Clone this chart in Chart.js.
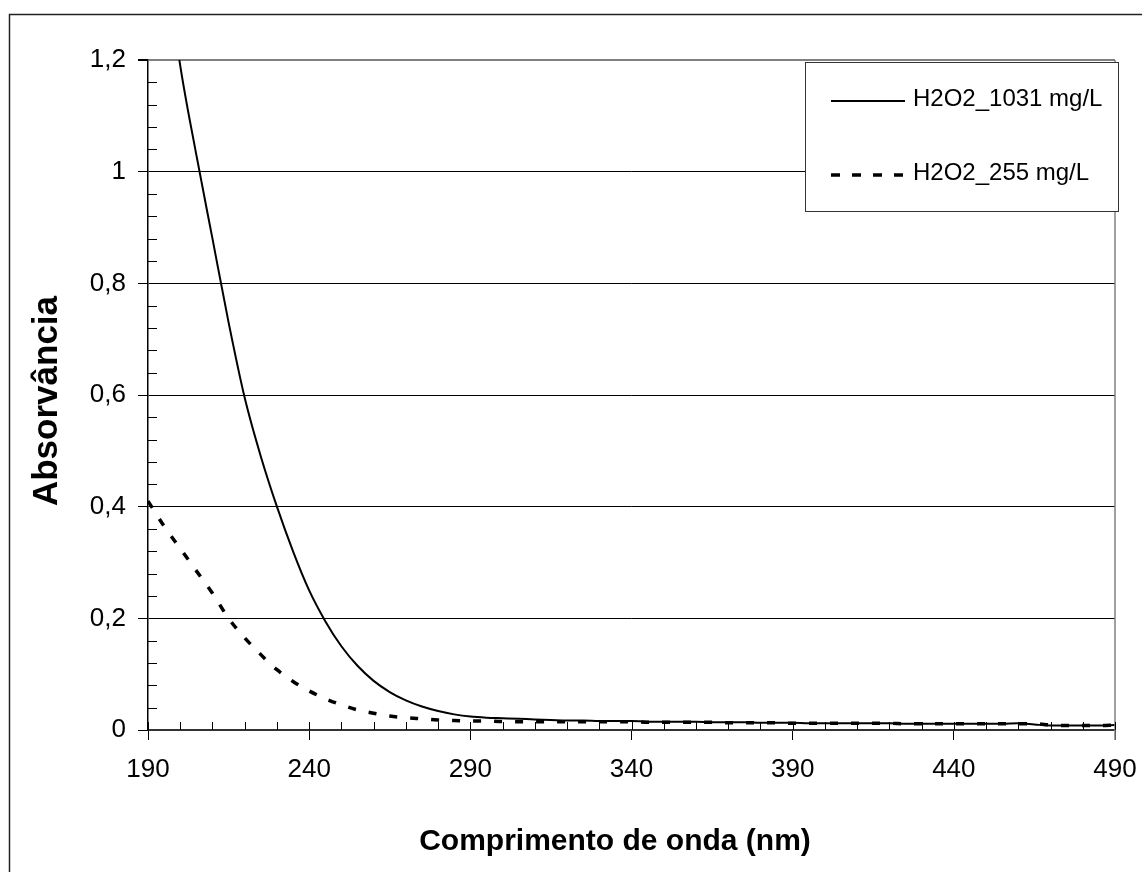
<!DOCTYPE html>
<html><head><meta charset="utf-8">
<script src="https://cdn.jsdelivr.net/npm/chart.js@4.4.1/dist/chart.umd.min.js"></script>
<style>html,body{margin:0;padding:0;background:#fff;} #wrap{width:1142px;height:872px;position:relative;}</style>
</head><body><div id="wrap"><canvas id="c"></canvas></div>
<script>
// ---- data ----
const wavelengths = [190,195,200,205,210,215,220,225,230,235,240,245,250,255,260,265,270,275,280,285,290,295,300,305,310,315,320,325,330,335,340,345,350,355,360,365,370,375,380,385,390,395,400,405,410,415,420,425,430,435,440,445,450,455,460,465,470,475,480,485,490];
const abs1031 = [1.62,1.40,1.19,1.03,0.88,0.73,0.595,0.49,0.40,0.32,0.25,0.195,0.15,0.115,0.088,0.068,0.053,0.042,0.034,0.028,0.024,0.022,0.021,0.020,0.019,0.018,0.017,0.017,0.016,0.016,0.016,0.015,0.015,0.015,0.015,0.014,0.014,0.014,0.013,0.013,0.013,0.012,0.012,0.012,0.012,0.012,0.012,0.011,0.011,0.011,0.011,0.011,0.011,0.011,0.012,0.010,0.008,0.008,0.008,0.008,0.009];
const abs255 = [0.41,0.365,0.325,0.285,0.245,0.20,0.165,0.135,0.108,0.087,0.070,0.056,0.045,0.036,0.030,0.025,0.022,0.020,0.018,0.017,0.016,0.016,0.015,0.015,0.015,0.015,0.015,0.015,0.015,0.015,0.015,0.014,0.014,0.014,0.014,0.014,0.013,0.013,0.013,0.013,0.012,0.012,0.012,0.012,0.012,0.012,0.012,0.011,0.011,0.011,0.011,0.011,0.011,0.011,0.011,0.011,0.009,0.008,0.008,0.008,0.009];
const seriesLabels = ['H2O2_1031 mg/L','H2O2_255 mg/L'];
const xTickValues = [190,240,290,340,390,440,490];
const yTickValues = [0,0.2,0.4,0.6,0.8,1,1.2];
const yTickLabels = ['0','0,2','0,4','0,6','0,8','1','1,2'];
const xTitle = 'Comprimento de onda (nm)';
const yTitle = 'Absorvância';

const FONT = "'Liberation Sans', Arial, sans-serif";

const decor = {
  id: 'decor',
  beforeDraw(chart) {
    const ctx = chart.ctx;
    ctx.save();
    ctx.fillStyle = '#fff';
    ctx.fillRect(0, 0, chart.width, chart.height);
    ctx.strokeStyle = '#222';
    ctx.lineWidth = 1.5;
    ctx.beginPath();
    ctx.moveTo(9.5, chart.height + 2);
    ctx.lineTo(9.5, 14.5);
    ctx.lineTo(chart.width + 2, 14.5);
    ctx.stroke();
    ctx.restore();
  },
  afterDraw(chart) {
    const ctx = chart.ctx;
    const a = chart.chartArea;
    ctx.save();
    // axis titles
    ctx.fillStyle = '#000';
    ctx.textAlign = 'center';
    ctx.textBaseline = 'middle';
    ctx.font = 'bold 30px ' + FONT;
    ctx.fillText(xTitle, 615, 842);
    ctx.translate(47, 401);
    ctx.rotate(-Math.PI / 2);
    ctx.font = 'bold 35px ' + FONT;
    ctx.fillText(yTitle, 0, 0);
    ctx.restore();
  },
  afterDatasetsDraw(chart) {
    const ctx = chart.ctx;
    const xs = chart.scales.x, ys = chart.scales.y;
    const a = chart.chartArea;
    ctx.save();
    // right border of plot area
    ctx.strokeStyle = '#808080';
    ctx.lineWidth = 1.5;
    ctx.beginPath();
    ctx.moveTo(a.right, a.top);
    ctx.lineTo(a.right, a.bottom + 10);
    ctx.stroke();
    // x minor ticks & major tick extensions (inside)
    ctx.strokeStyle = '#000';
    ctx.lineWidth = 1;
    ctx.beginPath();
    for (let v = xs.min; v <= xs.max + 0.001; v += 10) {
      const px = Math.round(xs.getPixelForValue(v)) + 0.5;
      ctx.moveTo(px, a.bottom);
      ctx.lineTo(px, a.bottom - 8);
    }
    // y minor ticks (inside)
    for (let i = 0; i <= 30; i++) {
      const v = i * 0.04;
      if (i % 5 === 0) continue;
      const py = Math.round(ys.getPixelForValue(v)) + 0.5;
      ctx.moveTo(a.left, py);
      ctx.lineTo(a.left + 9, py);
    }
    ctx.stroke();

    // legend box
    const bx = 805.5, by = 62.5, bw = 313, bh = 149;
    ctx.fillStyle = '#fff';
    ctx.fillRect(bx, by, bw, bh);
    ctx.strokeStyle = '#333';
    ctx.lineWidth = 1;
    ctx.strokeRect(bx, by, bw, bh);
    const rows = [101, 175];
    chart.data.datasets.forEach((ds, i) => {
      const y = rows[i];
      ctx.strokeStyle = ds.borderColor;
      ctx.lineWidth = ds.borderWidth;
      ctx.setLineDash(i === 0 ? [] : [9, 12]);
      ctx.beginPath();
      ctx.moveTo(831, y);
      ctx.lineTo(i === 0 ? 905 : 908, y);
      ctx.stroke();
      ctx.setLineDash([]);
      ctx.fillStyle = '#000';
      ctx.font = '24px ' + FONT;
      ctx.textBaseline = 'alphabetic';
      ctx.textAlign = 'left';
      ctx.fillText(ds.label, 913, y + 5);
    });
    ctx.restore();
  }
};

new Chart(document.getElementById('c'), {
  type: 'line',
  data: {
    datasets: [
      {
        label: seriesLabels[0],
        data: wavelengths.map((w, i) => ({x: w, y: abs1031[i]})),
        borderColor: '#000', borderWidth: 2, pointRadius: 0,
        cubicInterpolationMode: 'monotone', clip: 0, fill: false
      },
      {
        label: seriesLabels[1],
        data: wavelengths.map((w, i) => ({x: w, y: abs255[i]})),
        borderColor: '#000', borderWidth: 3.5, borderDash: [8, 13], pointRadius: 0,
        cubicInterpolationMode: 'monotone', clip: 0, fill: false
      }
    ]
  },
  options: {
    responsive: true,
    maintainAspectRatio: false,
    animation: false,
    events: [],
    layout: { padding: { left: 0, right: 27, top: 60, bottom: 0 } },
    plugins: { legend: { display: false }, tooltip: { enabled: false } },
    scales: {
      x: {
        type: 'linear', min: 190, max: 490,
        afterBuildTicks: s => { s.ticks = xTickValues.map(v => ({value: v})); },
        afterFit: s => { s.height = 142; s.paddingLeft = 0; s.paddingRight = 0; },
        ticks: { color: '#000', font: { family: FONT, size: 26 }, padding: 14, maxRotation: 0, autoSkip: false },
        grid: { drawOnChartArea: false, drawTicks: true, tickLength: 10, color: '#000', lineWidth: 1 },
        border: { display: true, color: '#333', width: 2 },
        title: { display: false, text: xTitle }
      },
      y: {
        type: 'linear', min: 0, max: 1.2,
        afterBuildTicks: s => { s.ticks = yTickValues.map(v => ({value: v})); },
        afterFit: s => { s.width = 148; s.paddingTop = 0; s.paddingBottom = 0; },
        ticks: { color: '#000', font: { family: FONT, size: 26 }, padding: 12, autoSkip: false,
                 callback: (v, i) => yTickLabels[i] },
        grid: { drawOnChartArea: true, drawTicks: true, tickLength: 10,
                color: c => (c.tick && c.tick.value >= 1.19) ? '#808080' : '#000',
                lineWidth: c => (c.tick && c.tick.value >= 1.19) ? 2 : 1,
                tickColor: '#000' },
        border: { display: true, color: '#000', width: 1.5 },
        title: { display: false, text: yTitle }
      }
    }
  },
  plugins: [decor]
});
</script>
</body></html>
